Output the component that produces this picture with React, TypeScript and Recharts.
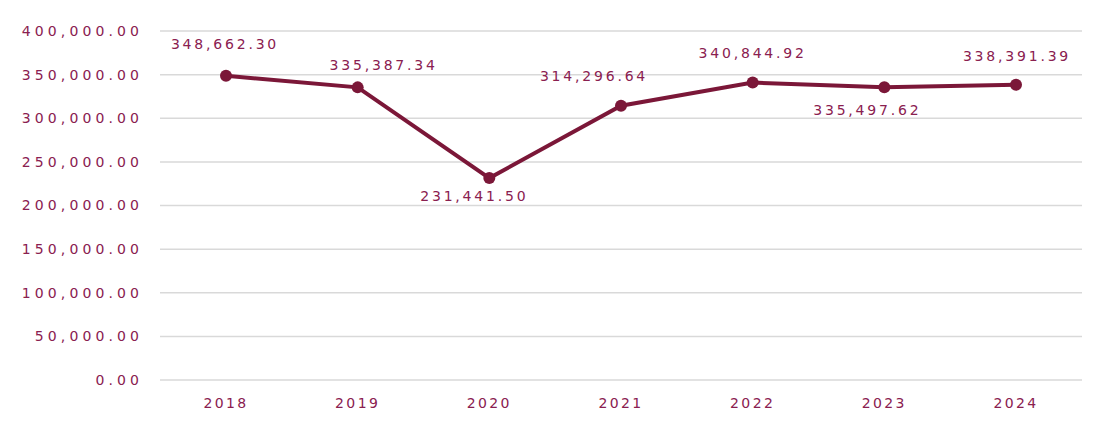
import React from "react";
import { LineChart, Line, XAxis, YAxis, CartesianGrid, LabelList } from "recharts";

// Serie anual
const YEARS = ["2018", "2019", "2020", "2021", "2022", "2023", "2024"];
const VALUES = [348662.3, 335387.34, 231441.5, 314296.64, 340844.92, 335497.62, 338391.39];
const Y_TICKS = [0, 50000, 100000, 150000, 200000, 250000, 300000, 350000, 400000];

// desplazamiento de cada etiqueta respecto a su punto
const LABEL_NUDGE: [number, number][] = [
  [-1, -32], [26, -22], [-15, 18], [-27, -30], [0, -30], [-17, 23], [1, -29],
];

const MAROON = "#7b1738";
const TEXT = "#8a2050";
const FONT = "'DejaVu Sans', sans-serif";

const fmt = (v: number) =>
  v.toLocaleString("en-US", { minimumFractionDigits: 2, maximumFractionDigits: 2 });

const rows = YEARS.map((year, i) => ({ year, value: VALUES[i] }));

function PointLabel(props: any) {
  const { x, y, value, index } = props;
  const [dx, dy] = LABEL_NUDGE[index] || [0, -25];
  return (
    <text
      x={x + dx} y={y + dy} textAnchor="middle" dominantBaseline="central"
      fill={TEXT} fontSize={14} fontFamily={FONT} letterSpacing={2.8}
    >
      {fmt(value)}
    </text>
  );
}

export default function App() {
  return (
    <div style={{ position: "absolute", left: 0, top: 0, background: "#fff" }}>
      <LineChart width={1098} height={426} data={rows} margin={{ top: 31, right: 16, bottom: 0, left: 0 }}>
        <CartesianGrid vertical={false} stroke="#d9d9d9" strokeWidth={1.5} />
        <XAxis
          dataKey="year" height={46} padding={{ left: 66, right: 66 }}
          axisLine={false} tickLine={false} tickSize={0} tickMargin={18}
          tick={{ fill: TEXT, fontSize: 14, fontFamily: FONT, letterSpacing: 2.4 }}
        />
        <YAxis
          width={160} domain={[0, 400000]} ticks={Y_TICKS} tickFormatter={fmt}
          axisLine={false} tickLine={false} tickSize={0} tickMargin={17}
          tick={{ fill: TEXT, fontSize: 14, fontFamily: FONT, letterSpacing: 4.1 }}
        />
        <Line
          dataKey="value" stroke={MAROON} strokeWidth={4} isAnimationActive={false}
          dot={{ r: 6, fill: MAROON, stroke: MAROON, strokeWidth: 0 }} activeDot={false}
        >
          <LabelList dataKey="value" content={<PointLabel />} />
        </Line>
      </LineChart>
    </div>
  );
}
